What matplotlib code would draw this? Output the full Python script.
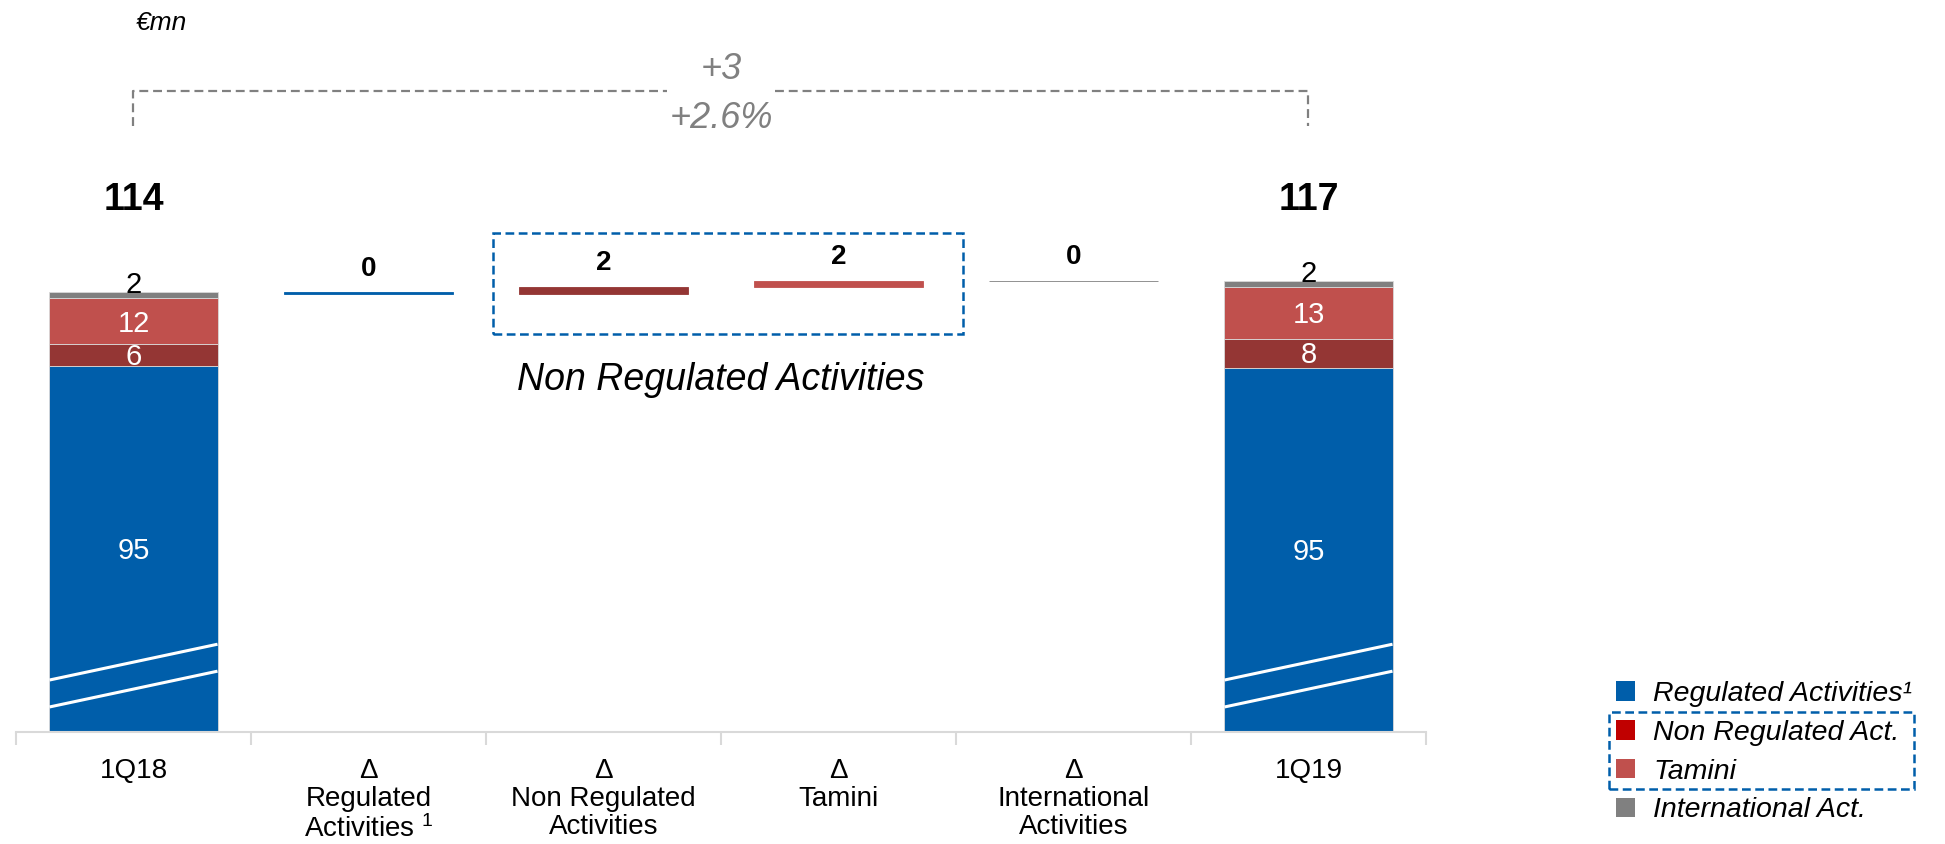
import numpy as np
import matplotlib.pyplot as plt
from matplotlib.patches import Patch, Rectangle

plt.rcParams['font.family'] = ['Liberation Sans', 'DejaVu Sans']
plt.rcParams['mathtext.fontset'] = 'custom'
plt.rcParams['mathtext.rm'] = 'Liberation Sans'
plt.rcParams['mathtext.it'] = 'Liberation Sans:italic'
plt.rcParams['mathtext.bf'] = 'Liberation Sans:bold'

# EBITDA bridge, €mn
categories = ["1Q18",
              "Δ\nRegulated\nActivities $^{\\mathit{1}}$",
              "Δ\nNon Regulated\nActivities",
              "Δ\nTamini",
              "Δ\nInternational\nActivities",
              "1Q19"]
segments = ["Regulated Activities¹", "Non Regulated Act.", "Tamini", "International Act."]
q1_2018 = [95.0, 5.8, 11.8, 1.6]
q1_2019 = [94.6, 7.6, 13.4, 1.6]

seg_colors = ["#005EAA", "#943634", "#C0504D", "#808080"]
legend_colors = ["#005EAA", "#C00000", "#C0504D", "#808080"]
seg_text_colors = ["white", "white", "white", "black"]
BLUE = "#005EAA"
GREY = "#808080"

W, H = 1945, 844
PX_PER_UNIT = 3.85
fig = plt.figure(figsize=(W / 100, H / 100), dpi=100)
ax = fig.add_axes([16 / W, (H - 732) / H, (1426 - 16) / W, 732 / H])
ax.set_xlim(-0.5, 5.5)
ax.set_ylim(0, 732 / PX_PER_UNIT)
bw = 0.715

# stacked start / end bars
for x, vals in [(0, q1_2018), (5, q1_2019)]:
    bottom = 0
    for i, (v, c, tc) in enumerate(zip(vals, seg_colors, seg_text_colors)):
        ax.bar(x, v, bottom=bottom, width=bw, color=c, edgecolor="#D9D9D9", linewidth=0.6, zorder=2)
        if i == len(vals) - 1:
            ax.annotate(f"{round(v)}", (x, bottom + v), xytext=(0, 5), textcoords="offset points",
                        ha="center", va="center", fontsize=21, color=tc, zorder=4)
        else:
            ax.text(x, bottom + v / 2 - 0.6, f"{round(v)}", ha="center", va="center",
                    fontsize=21, color=tc, zorder=4)
        bottom += v
    # axis break marks
    for lo in (6.5, 13.5):
        ax.plot([x - bw / 2, x + bw / 2], [lo, lo + 9.3], color="white", lw=2.2,
                solid_capstyle="butt", zorder=3)
    ax.text(x, 138.2, f"{round(sum(vals))}", ha="center", va="center",
            fontsize=27, fontweight="bold")

# waterfall deltas
deltas = [b - a for a, b in zip(q1_2018, q1_2019)]
running = sum(q1_2018)
for i, d in enumerate(deltas):
    x = i + 1
    lo = running + min(d, 0)
    ax.bar(x, abs(d), bottom=lo, width=bw, color=seg_colors[i], edgecolor=seg_colors[i],
           linewidth=0.6, zorder=2)
    ax.annotate(f"{int(round(d))}", (x, lo + abs(d)), xytext=(0, 17), textcoords="offset points",
                ha="center", va="center", fontsize=20, fontweight="bold")
    running += d

# box around the non regulated deltas
ax.add_patch(Rectangle((1.53, 103.4), 2.0, 26.2, fill=False, edgecolor=BLUE, lw=1.8,
                       linestyle=(0, (3.5, 1.8)), clip_on=False))
ax.text(2.5, 91.5, "Non Regulated Activities", ha="center", va="center",
        fontsize=27, style="italic")

# total change bracket
total_0, total_1 = sum(q1_2018), sum(q1_2019)
change = total_1 - total_0
y_top, y_foot = 166.5, 157.4
gap = 0.23
dash = dict(color=GREY, lw=1.6, linestyle=(0, (4, 2.2)), clip_on=False)
ax.plot([0, 0, 2.5 - gap], [y_foot, y_top, y_top], **dash)
ax.plot([2.5 + gap, 5, 5], [y_top, y_top, y_foot], **dash)
ax.text(2.5, 172.2, f"{change:+.0f}", ha="center", va="center", fontsize=26,
        style="italic", color=GREY)
ax.text(2.5, 159.3, f"{change / total_0 * 100:+.1f}%", ha="center", va="center",
        fontsize=26, style="italic", color=GREY)

# axis styling
for side in ("top", "left", "right"):
    ax.spines[side].set_visible(False)
ax.spines["bottom"].set_color("#D9D9D9")
ax.spines["bottom"].set_linewidth(1.5)
ax.set_yticks([])
ax.set_xticks(range(len(categories)))
ax.set_xticklabels(categories, fontsize=20, linespacing=1.12)
ax.set_xticks(np.arange(-0.5, 6, 1), minor=True)
ax.tick_params(axis="x", which="major", length=0, pad=18.5)
ax.tick_params(axis="x", which="minor", length=9, width=1.5, color="#D9D9D9")

fig.text(136 / W, 1 - 23 / H, "€mn", fontsize=19, style="italic", va="center")

# legend
handles = [Patch(facecolor=c, edgecolor="none") for c in legend_colors]
ax.legend(handles, segments, loc="upper left", bbox_to_anchor=(1616 / W, 1 - 681 / H),
          bbox_transform=fig.transFigure, frameon=False,
          prop={"style": "italic", "size": 20.5}, handlelength=0.67, handleheight=0.67,
          handletextpad=0.63, labelspacing=0.45, borderpad=0, borderaxespad=0)
fig.add_artist(Rectangle((1609 / W, 1 - 789 / H), (1914 - 1609) / W, (789 - 712) / H,
                         transform=fig.transFigure, fill=False, edgecolor=BLUE, lw=1.8,
                         linestyle=(0, (3.5, 1.8))))

fig.savefig("out.png", dpi=100)
